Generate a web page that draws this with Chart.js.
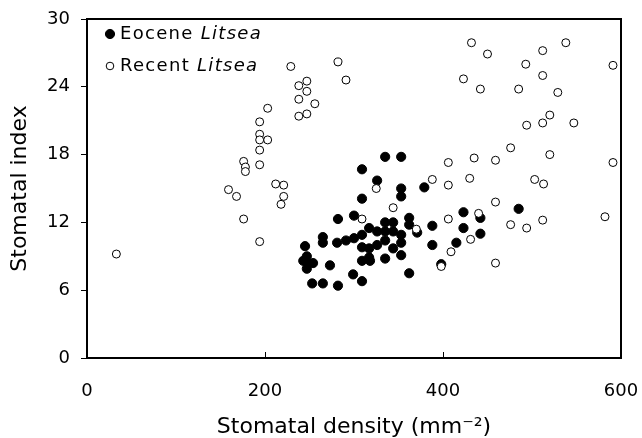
<!DOCTYPE html>
<html>
<head>
<meta charset="utf-8">
<script src="https://cdn.jsdelivr.net/npm/chart.js@4.4.0/dist/chart.umd.min.js"></script>
<style>
  html, body { margin: 0; padding: 0; background: #fff; }
  #wrap { width: 642px; height: 438px; }
</style>
</head>
<body>
<div id="wrap"><canvas id="grafico" width="642" height="438"></canvas></div>
<script>
// Eocene Litsea: [stomatal density, stomatal index]
const eoceneDensity = [335, 353, 309, 326, 353, 353, 379, 309, 282, 300, 362, 362, 371, 388, 388, 423, 423, 442, 442, 485,
  415, 398, 362, 309, 299, 282, 265, 253, 273, 247, 247, 254, 247, 245, 265, 265, 281, 335, 344, 317,
  326, 335, 344, 353, 353, 309, 300, 291, 309, 317, 326, 335, 344, 335, 353, 317, 309, 318, 243];
const eoceneIndex = [17.8, 17.8, 16.7, 15.7, 15.0, 14.3, 15.1, 14.1, 12.3, 12.6, 12.4, 11.8, 11.1, 11.7, 10.0, 12.9, 11.5, 12.4, 11.0, 13.2,
  10.2, 8.3, 7.5, 6.8, 7.4, 6.4, 6.6, 6.6, 8.2, 7.9, 8.5, 8.4, 9.0, 9.9, 10.7, 10.2, 10.2, 12.0, 12.0, 11.5,
  11.2, 11.2, 11.2, 10.9, 10.2, 10.9, 10.6, 10.4, 9.8, 9.7, 10.0, 10.4, 9.7, 8.8, 9.1, 8.9, 8.6, 8.6, 8.6];

// Recent Litsea
const recentDensity = [229, 238, 247, 247, 238, 256, 238, 247, 203, 194, 194, 194, 203, 194, 194, 176, 178, 178, 159, 168,
  212, 221, 221, 218, 176, 194, 33, 282, 291, 432, 450, 423, 442, 512, 538, 493, 512, 485, 529, 591,
  520, 512, 494, 547, 476, 520, 591, 459, 435, 406, 388, 406, 430, 503, 513, 459, 325, 344, 582, 309,
  406, 440, 476, 494, 512, 431, 409, 459, 398, 370];
const recentIndex = [25.8, 24.1, 24.5, 23.6, 22.9, 22.5, 21.4, 21.6, 22.1, 20.9, 19.8, 19.3, 19.3, 18.4, 17.1, 17.4, 16.9, 16.5, 14.9, 14.3,
  15.4, 15.3, 14.3, 13.6, 12.3, 10.3, 9.2, 26.2, 24.6, 27.9, 26.9, 24.7, 23.8, 27.2, 27.9, 26.0, 25.0, 23.8, 23.5, 25.9,
  21.5, 20.8, 20.6, 20.8, 18.6, 18.0, 17.3, 17.5, 17.7, 17.3, 15.8, 15.3, 15.9, 15.8, 15.4, 13.8, 15.0, 13.3, 12.5, 12.3,
  12.3, 12.8, 11.8, 11.5, 12.2, 10.5, 9.4, 8.4, 8.1, 11.4];

const xTicks = [0, 200, 400, 600];
const yTicks = [0, 6, 12, 18, 24, 30];

const fonte = '"DejaVu Sans", "Liberation Sans", Arial, sans-serif';

function pares(xs, ys) {
  return xs.map((x, i) => ({ x: x, y: ys[i] }));
}

// frame, inward x ticks and legend
const moldura = {
  id: 'moldura',
  afterDraw(chart) {
    const ctx = chart.ctx;
    const a = chart.chartArea;
    const sx = chart.scales.x;
    ctx.save();
    ctx.strokeStyle = '#000';
    ctx.lineWidth = 2;
    ctx.strokeRect(a.left, a.top, a.right - a.left, a.bottom - a.top);
    ctx.lineWidth = 1;
    xTicks.forEach(v => {
      const px = Math.round(sx.getPixelForValue(v)) + 0.5;
      ctx.beginPath();
      ctx.moveTo(px, a.bottom);
      ctx.lineTo(px, a.bottom - 6);
      ctx.stroke();
    });

    // legend
    const itens = [
      { nome: 'Eocene ', fill: '#000', r: 4.6, y: a.top + 15 },
      { nome: 'Recent ', fill: '#fff', r: 3.8, y: a.top + 47 }
    ];
    if ('letterSpacing' in ctx) ctx.letterSpacing = '1.3px';
    itens.forEach(it => {
      ctx.beginPath();
      ctx.arc(a.left + 23, it.y, it.r, 0, Math.PI * 2);
      ctx.fillStyle = it.fill;
      ctx.fill();
      ctx.strokeStyle = '#000';
      ctx.lineWidth = 1;
      ctx.stroke();
      ctx.fillStyle = '#000';
      ctx.textBaseline = 'middle';
      ctx.font = '18px ' + fonte;
      ctx.fillText(it.nome, a.left + 33, it.y);
      const w = ctx.measureText(it.nome).width;
      ctx.font = 'italic 18px ' + fonte;
      ctx.fillText('Litsea', a.left + 33 + w, it.y);
    });
    ctx.restore();
  }
};

const ctx = document.getElementById('grafico');

new Chart(ctx, {
  type: 'scatter',
  data: {
    datasets: [
      {
        label: 'Recent Litsea',
        data: pares(recentDensity, recentIndex),
        pointRadius: 4,
        pointBackgroundColor: '#fff',
        pointBorderColor: '#000',
        pointBorderWidth: 1
      },
      {
        label: 'Eocene Litsea',
        data: pares(eoceneDensity, eoceneIndex),
        pointRadius: 4.6,
        pointBackgroundColor: '#000',
        pointBorderColor: '#000',
        pointBorderWidth: 1
      }
    ]
  },
  options: {
    responsive: false,
    animation: false,
    layout: { padding: { top: 19, right: 21, left: 0, bottom: 0 } },
    plugins: {
      legend: { display: false },
      tooltip: { enabled: false }
    },
    scales: {
      x: {
        type: 'linear',
        min: 0,
        max: 600,
        afterBuildTicks: s => { s.ticks = xTicks.map(v => ({ value: v })); },
        afterFit: s => { s.height = 80; s.paddingLeft = 0; s.paddingRight = 0; },
        grid: { display: false, drawTicks: false },
        border: { display: false },
        ticks: { color: '#000', padding: 23, font: { size: 18, family: fonte } },
        title: {
          display: true,
          text: 'Stomatal density (mm\u207B\u00B2)',
          color: '#000',
          padding: { top: 0, bottom: 0 },
          font: { size: 22, family: fonte, lineHeight: 1 }
        }
      },
      y: {
        type: 'linear',
        min: 0,
        max: 30,
        afterBuildTicks: s => { s.ticks = yTicks.map(v => ({ value: v })); },
        afterFit: s => { s.width = 87; s.paddingTop = 0; s.paddingBottom = 0; },
        grid: { drawOnChartArea: false, drawTicks: true, tickLength: 6, color: '#000', lineWidth: 1 },
        border: { display: false },
        ticks: { color: '#000', padding: 11, font: { size: 18, family: fonte } },
        title: {
          display: true,
          text: 'Stomatal index',
          color: '#000',
          padding: { top: 7, bottom: 0 },
          font: { size: 22, family: fonte }
        }
      }
    }
  },
  plugins: [moldura]
});
</script>
</body>
</html>
